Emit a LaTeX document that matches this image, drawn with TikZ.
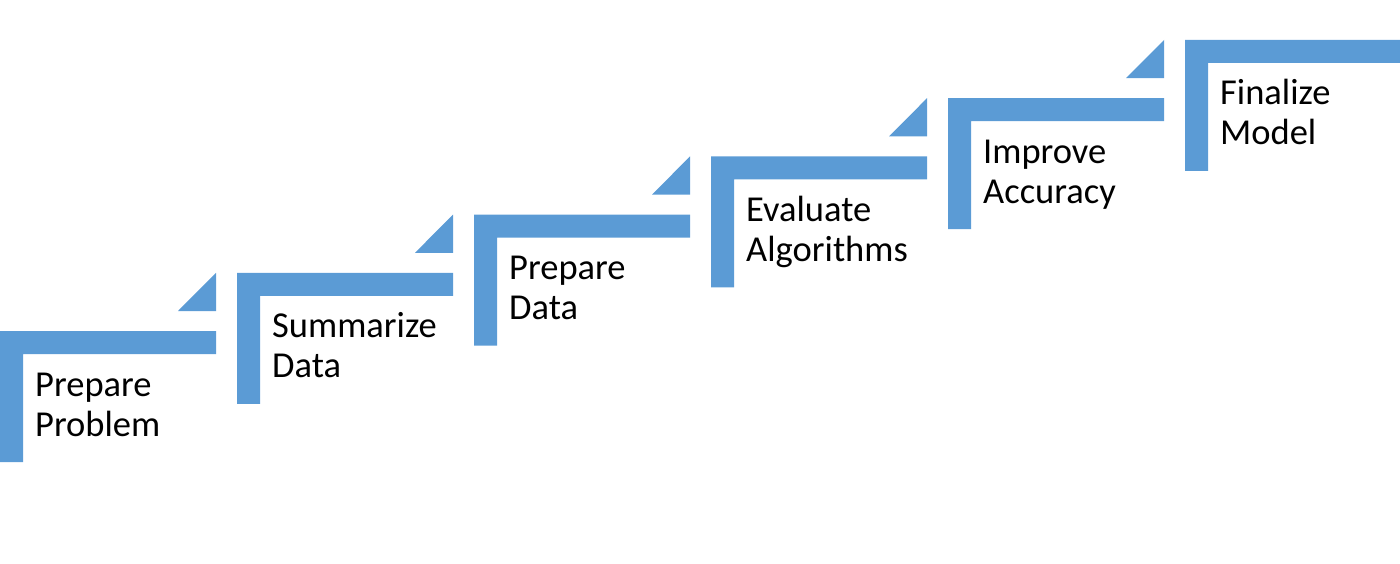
\documentclass[tikz,border=0pt]{standalone}
\usepackage{fontspec}
\setmainfont{Carlito}
\definecolor{stepblue}{HTML}{5B9BD5}
\tikzset{
  stepfill/.style={fill=stepblue, draw=none},
  steplabel/.style={anchor=base west, inner sep=0pt, align=left, text=black,
    font=\fontsize{36.5}{40}\selectfont}
}
\begin{document}
\begin{tikzpicture}[x=1pt,y=-1pt]
\useasboundingbox (0,0) rectangle (1400,564);
\foreach \i/\t in {0/{Prepare\\Problem},1/{Summarize\\Data},2/{Prepare\\Data},3/{Evaluate\\Algorithms},4/{Improve\\Accuracy},5/{Finalize\\Model}}{
  \pgfmathsetmacro{\X}{237*\i}
  \pgfmathsetmacro{\Y}{331-58.2*\i}
  \ifnum\i<5
    \fill[stepfill] (\X,\Y) -- ++(216,0) -- ++(0,23) -- ++(-193,0) -- ++(0,108) -- ++(-23,0) -- cycle;
    \fill[stepfill] (\X+178,\Y-20) -- (\X+216,\Y-58.2) -- (\X+216,\Y-20) -- cycle;
  \else
    \fill[stepfill] (\X,\Y) -- (1400,\Y) -- (1400,\Y+23) -- (\X+23,\Y+23) -- ++(0,108) -- ++(-23,0) -- cycle;
  \fi
  \node[steplabel] (t\i) at (\X+35,\Y+105) {\t};
}
\end{tikzpicture}
\end{document}
